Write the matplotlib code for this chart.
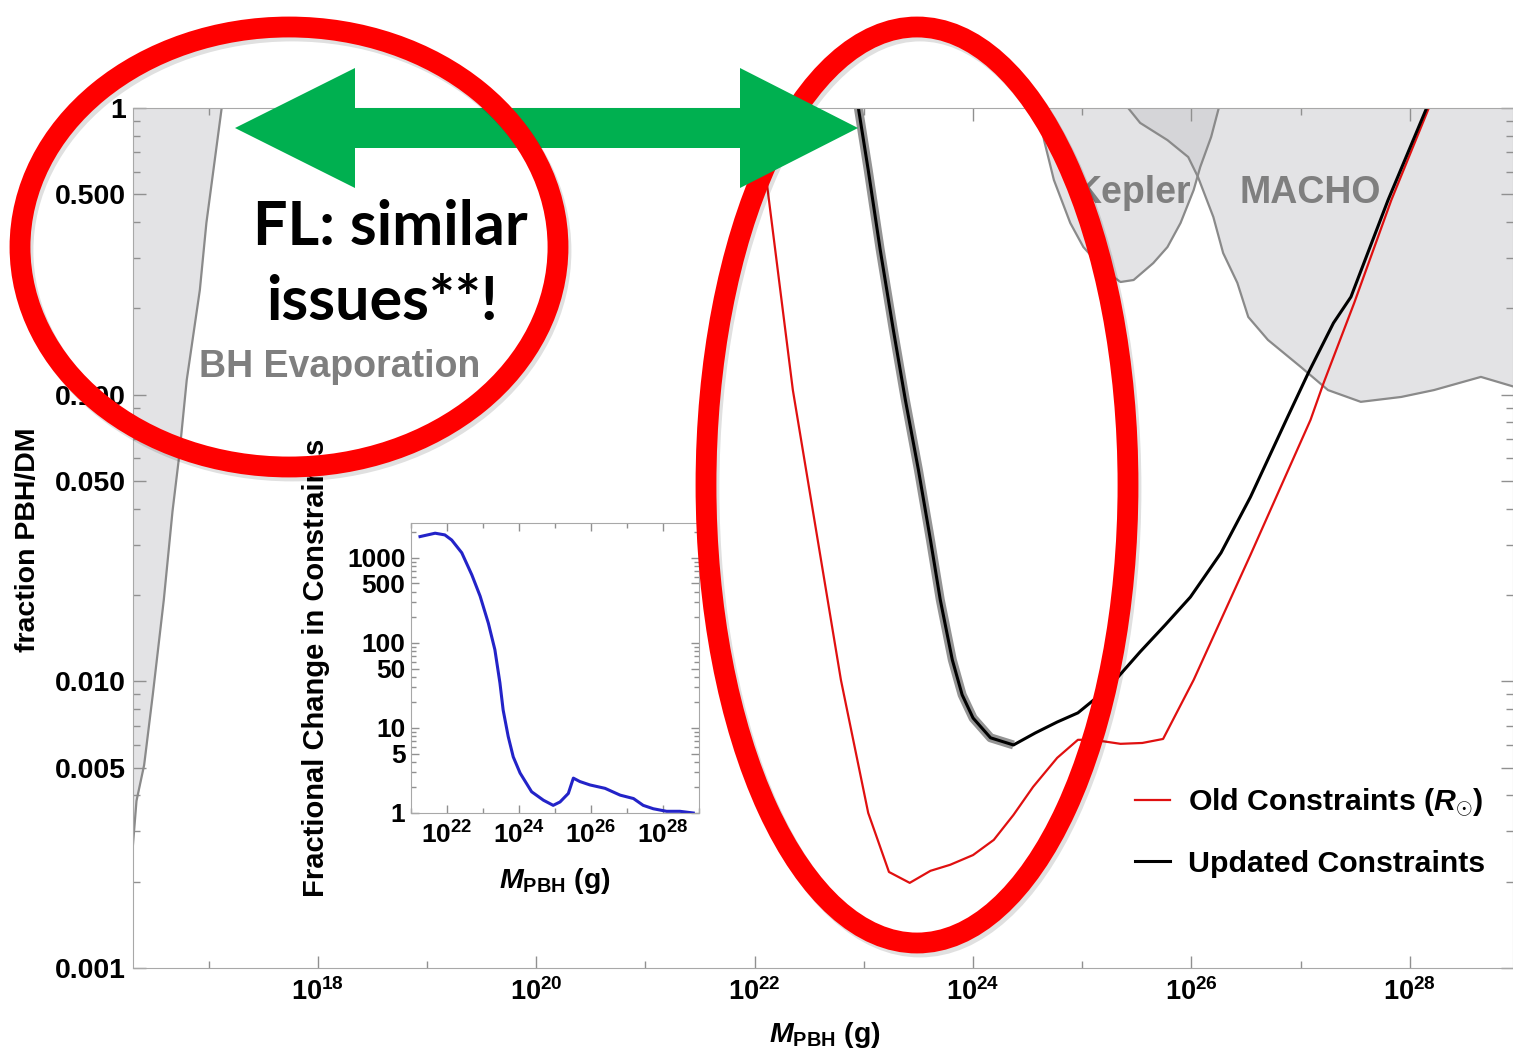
import numpy as np
import matplotlib
matplotlib.use('Agg')
import matplotlib.pyplot as plt
from matplotlib.patches import Ellipse, Polygon

plt.rcParams['font.family'] = ['Liberation Sans', 'DejaVu Sans']
plt.rcParams['font.weight'] = 'bold'
plt.rcParams['mathtext.fontset'] = 'custom'
plt.rcParams['mathtext.rm'] = 'Liberation Sans:bold'
plt.rcParams['mathtext.bf'] = 'Liberation Sans:bold'
plt.rcParams['mathtext.it'] = 'Liberation Sans:italic:bold'

# values: log10(M/g) and log10(fraction)
old_logm = [22.02, 22.10, 22.35, 22.79, 23.04, 23.23, 23.42, 23.61, 23.79, 24.00, 24.19,
            24.37, 24.55, 24.77, 24.96, 25.10, 25.35, 25.55, 25.74, 26.02, 26.54, 27.09,
            27.21, 27.49, 27.83, 28.17]
old_logf = [0.0, -0.227, -0.984, -1.995, -2.459, -2.665, -2.703, -2.661, -2.640, -2.606, -2.553,
            -2.466, -2.368, -2.267, -2.204, -2.204, -2.218, -2.215, -2.201, -1.995, -1.559, -1.088,
            -0.959, -0.680, -0.321, -0.003]

new_logm = [22.95, 23.04, 23.15, 23.27, 23.38, 23.50, 23.61, 23.70, 23.81, 23.90, 24.00,
            24.16, 24.37, 24.57, 24.77, 24.96, 25.14, 25.32, 25.53, 25.76, 25.99, 26.27,
            26.54, 26.88, 27.07, 27.30, 27.46, 27.80, 28.15]
new_logf = [0.0, -0.216, -0.495, -0.774, -1.018, -1.263, -1.507, -1.716, -1.925, -2.047, -2.128,
            -2.197, -2.222, -2.180, -2.142, -2.110, -2.054, -1.988, -1.897, -1.803, -1.706, -1.552,
            -1.357, -1.078, -0.924, -0.750, -0.659, -0.321, -0.003]

bh_logm = [17.12, 16.98, 16.92, 16.80, 16.73, 16.67, 16.59, 16.49, 16.41, 16.34, 16.30]
bh_logf = [0.0, -0.401, -0.635, -0.949, -1.217, -1.406, -1.716, -2.044, -2.292, -2.417, -2.606]

kepler_logm = [24.60, 24.65, 24.74, 24.89, 25.01, 25.20, 25.35, 25.47, 25.65, 25.78, 25.90,
               26.02, 26.08, 26.18, 26.25]
kepler_logf = [0.0, -0.112, -0.251, -0.401, -0.485, -0.565, -0.607, -0.600, -0.541, -0.485,
               -0.401, -0.286, -0.206, -0.101, 0.0]

macho_logm = [25.42, 25.53, 25.78, 25.97, 26.06, 26.20, 26.29, 26.42, 26.52, 26.70, 27.00,
              27.25, 27.55, 27.92, 28.22, 28.65, 28.96]
macho_logf = [0.0, -0.052, -0.112, -0.171, -0.241, -0.380, -0.506, -0.610, -0.729, -0.809,
              -0.903, -0.984, -1.025, -1.008, -0.984, -0.938, -0.973]

# inset: fractional change
ratio_logm = [21.25, 21.67, 21.94, 22.13, 22.41, 22.69, 22.92, 23.15, 23.33, 23.47, 23.56,
              23.70, 23.84, 24.03, 24.35, 24.68, 24.95, 25.14, 25.37, 25.51, 25.69, 25.97,
              26.39, 26.81, 27.18, 27.45, 27.73, 28.10, 28.47, 28.84]
ratio_logv = [3.25, 3.29, 3.27, 3.21, 3.06, 2.80, 2.55, 2.23, 1.92, 1.53, 1.21,
              0.90, 0.66, 0.47, 0.25, 0.15, 0.09, 0.13, 0.23, 0.41, 0.37, 0.33,
              0.29, 0.21, 0.17, 0.09, 0.05, 0.02, 0.02, 0.00]

xticks_main = [1e18, 1e20, 1e22, 1e24, 1e26, 1e28]
xticklabels_main = [r'$\mathbf{10^{18}}$', r'$\mathbf{10^{20}}$', r'$\mathbf{10^{22}}$',
                    r'$\mathbf{10^{24}}$', r'$\mathbf{10^{26}}$', r'$\mathbf{10^{28}}$']
yticks_main = [0.001, 0.005, 0.01, 0.05, 0.1, 0.5, 1]
yticklabels_main = ['0.001', '0.005', '0.010', '0.050', '0.100', '0.500', '1']
xticks_in = [1e22, 1e24, 1e26, 1e28]
xticklabels_in = [r'$\mathbf{10^{22}}$', r'$\mathbf{10^{24}}$', r'$\mathbf{10^{26}}$', r'$\mathbf{10^{28}}$']
yticks_in = [1, 5, 10, 50, 100, 500, 1000]
yticklabels_in = ['1', '5', '10', '50', '100', '500', '1000']

W, H = 1513, 1054
fig = plt.figure(figsize=(W / 100, H / 100), dpi=100)

ax = fig.add_axes([133 / W, 1 - 968 / H, 1 - 133 / W, (968 - 108) / H])
ax.set_xscale('log')
ax.set_yscale('log')
ax.set_xlim(10 ** 16.308, 10 ** 28.944)
ax.set_ylim(1e-3, 1)

fillc = '#c8c8cc'
edgec = '#8a8a8a'
bm, bf = 10 ** np.array(bh_logm), 10 ** np.array(bh_logf)
ax.fill_betweenx(bf, 1e16, bm, color=fillc, alpha=0.5, lw=0)
ax.plot(bm, bf, color=edgec, lw=1.6)
km, kf = 10 ** np.array(kepler_logm), 10 ** np.array(kepler_logf)
ax.fill_between(km, kf, 1.0, color=fillc, alpha=0.5, lw=0)
ax.plot(km, kf, color=edgec, lw=1.6)
mm, mf = 10 ** np.array(macho_logm), 10 ** np.array(macho_logf)
ax.fill_between(mm, mf, 1.0, color=fillc, alpha=0.5, lw=0)
ax.plot(mm, mf, color=edgec, lw=1.6)

om, of = 10 ** np.array(old_logm), 10 ** np.array(old_logf)
nm, nf = 10 ** np.array(new_logm), 10 ** np.array(new_logf)
l_old, = ax.plot(om, of, color='#e01010', lw=1.6)
band = np.array(new_logm) <= 24.5
ax.plot(nm[band], nf[band], color='#707070', lw=6.5, alpha=0.75, solid_capstyle='butt')
l_new, = ax.plot(nm, nf, color='black', lw=2.2)

for s in ax.spines.values():
    s.set_color('#a8a8a8')
ax.set_xticks(xticks_main, labels=xticklabels_main)
ax.set_xticks([1e17, 1e19, 1e21, 1e23, 1e25, 1e27], minor=True)
ax.set_yticks(yticks_main, labels=yticklabels_main)
yminor = [m * d for d in (1e-3, 1e-2, 1e-1) for m in (2, 3, 4, 6, 7, 8, 9)]
ax.set_yticks(yminor, minor=True)
ax.yaxis.set_minor_formatter(plt.NullFormatter())
ax.xaxis.set_minor_formatter(plt.NullFormatter())
ax.tick_params(which='both', direction='in', top=True, right=True, color='#909090')
ax.tick_params(which='major', length=9, width=1)
ax.tick_params(which='minor', length=5, width=1)
ax.tick_params(axis='x', labelsize=19.5, pad=7)
ax.tick_params(axis='y', labelsize=20.5, pad=5)

ax.legend([l_old, l_new], [r'Old Constraints ($R_{\odot}$)', 'Updated Constraints'],
          loc='upper left', bbox_to_anchor=(1135 / W, 1 - 787 / H), bbox_transform=fig.transFigure,
          frameon=False, fontsize=21.8, handlelength=1.15, handletextpad=0.6, labelspacing=1.0,
          borderpad=0, borderaxespad=0)

fig.text(825 / W, 1 - 1035 / H, r'$M_{\mathrm{PBH}}$ (g)', ha='center', va='center', fontsize=20.5)
fig.text(28 / W, 1 - 540 / H, 'fraction PBH/DM', rotation=90, ha='center', va='center', fontsize=20.5)

# inset
axi = fig.add_axes([411 / W, 1 - 813 / H, (699 - 411) / W, (813 - 523) / H])
axi.set_xscale('log')
axi.set_yscale('log')
axi.set_xlim(1e21, 1e29)
axi.set_ylim(1, 10 ** 3.41)
axi.plot(10 ** np.array(ratio_logm), 10 ** np.array(ratio_logv), color='#2323c8', lw=2.2)
for s in axi.spines.values():
    s.set_color('#a8a8a8')
axi.set_xticks(xticks_in, labels=xticklabels_in)
axi.set_xticks([1e21, 1e23, 1e25, 1e27, 1e29], minor=True)
axi.set_yticks(yticks_in, labels=yticklabels_in)
iminor = [m * d for d in (1, 10, 100, 1000) for m in (2, 3, 4, 6, 7, 8, 9) if m * d < 10 ** 3.41]
axi.set_yticks(iminor, minor=True)
axi.yaxis.set_minor_formatter(plt.NullFormatter())
axi.xaxis.set_minor_formatter(plt.NullFormatter())
axi.tick_params(which='both', direction='in', top=True, right=True, color='#909090')
axi.tick_params(which='major', length=6, width=1)
axi.tick_params(which='minor', length=3.5, width=1)
axi.tick_params(axis='x', labelsize=19, pad=6)
axi.tick_params(axis='y', labelsize=19, pad=4)
fig.text(555 / W, 1 - 881 / H, r'$M_{\mathrm{PBH}}$ (g)', ha='center', va='center', fontsize=20.5)
fig.text(316 / W, 1 - 668 / H, 'Fractional Change in Constraints', rotation=90,
         ha='center', va='center', fontsize=21)

# overlay for labels and slide annotations (pixel coordinates)
ov = fig.add_axes([0, 0, 1, 1])
ov.set_xlim(0, W)
ov.set_ylim(H, 0)
ov.axis('off')
ov.set_zorder(10)
ov.patch.set_alpha(0)

lab = dict(color='#7f7f7f', fontsize=27, ha='center', va='center', zorder=1)
ov.text(1133, 193, 'Kepler', **lab)
ov.text(1310, 193, 'MACHO', **lab)
ov.text(340, 367, 'BH Evaporation', **lab)

ring = 15
ov.add_patch(Ellipse((920, 489), 2 * 211, 2 * 458, fill=False, ec=(0, 0, 0, 0.12), lw=ring, zorder=2))
ov.add_patch(Ellipse((917, 485), 2 * 211, 2 * 458, fill=False, ec='#ff0000', lw=ring, zorder=3))

arrow = [(235, 128), (355, 68), (355, 108), (740, 108), (740, 68), (858, 128),
         (740, 188), (740, 148), (355, 148), (355, 188)]
ov.add_patch(Polygon(arrow, closed=True, fc='#00b050', ec='none', zorder=4))

ov.add_patch(Ellipse((292, 251), 2 * 269, 2 * 220, fill=False, ec=(0, 0, 0, 0.12), lw=ring, zorder=5))
ov.add_patch(Ellipse((289, 247), 2 * 269, 2 * 220, fill=False, ec='#ff0000', lw=ring, zorder=6))

fl = dict(family=['Lato', 'DejaVu Sans'], fontweight='bold', fontsize=44, color='black',
          ha='center', va='baseline', zorder=7)
ov.text(390, 245, 'FL: similar', **fl)
ov.text(382, 320, 'issues**!', **fl)

fig.savefig('out.png', dpi=100)
